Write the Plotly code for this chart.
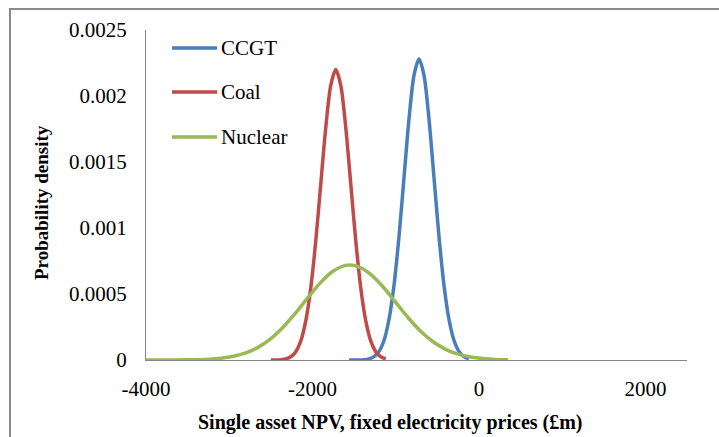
import plotly.graph_objects as go

# ---- data ----
ccgt_x = [-1560, -1500, -1440, -1380, -1320, -1260, -1200, -1140, -1080, -1020, -960, -900, -840,
          -780, -720, -660, -600, -540, -480, -420, -360, -300, -240, -180, -120]
ccgt_y = [0.00000004, 0.00000019, 0.00000076, 0.0000027, 0.0000088, 0.0000253, 0.0000652,
          0.0001498, 0.0003085, 0.0005677, 0.000937, 0.001383, 0.001826, 0.002157, 0.00228,
          0.002157, 0.001826, 0.001383, 0.000937, 0.0005677, 0.0003085, 0.0001498, 0.0000652,
          0.0000253, 0.0000088]

coal_x = [-2500, -2440, -2380, -2320, -2260, -2200, -2140, -2080, -2020, -1960, -1900, -1840,
          -1780, -1720, -1660, -1600, -1540, -1480, -1420, -1360, -1300, -1240, -1180, -1120]
coal_y = [0.0000002, 0.0000007, 0.0000026, 0.0000085, 0.0000244, 0.0000629, 0.0001445,
          0.0002977, 0.0005478, 0.000904, 0.001334, 0.001762, 0.002081, 0.0022, 0.002081,
          0.001762, 0.001334, 0.000904, 0.0005478, 0.0002977, 0.0001445, 0.0000629,
          0.0000244, 0.0000085]

nuclear_x = [-4000, -3850, -3700, -3550, -3400, -3250, -3100, -2950, -2800, -2650, -2500, -2350,
             -2200, -2050, -1900, -1750, -1600, -1450, -1300, -1150, -1000, -850, -700, -550,
             -400, -250, -100, 50, 200, 350]
nuclear_y = [0.00000004, 0.00000012, 0.00000035, 0.00000097, 0.0000025, 0.0000061, 0.0000136,
             0.0000282, 0.0000544, 0.0000974, 0.000162, 0.00025, 0.000358, 0.000476, 0.000588,
             0.000674, 0.000717, 0.000708, 0.000649, 0.000553, 0.000437, 0.00032, 0.000218,
             0.000138, 0.0000809, 0.0000441, 0.0000223, 0.0000105, 0.0000046, 0.0000018]

series_names = ["CCGT", "Coal", "Nuclear"]
series_colors = ["#4A7EBB", "#BE4B48", "#98B954"]

x_tickvals = [-4000, -2000, 0, 2000]
x_ticktext = ["-4000", "-2000", "0", "2000"]
y_tickvals = [0, 0.0005, 0.001, 0.0015, 0.002, 0.0025]
y_ticktext = ["0", "0.0005", "0.001", "0.0015", "0.002", "0.0025"]

x_title = "Single asset NPV, fixed electricity prices (£m)"
y_title = "Probability density"

# ---- figure ----
W, H = 719, 437
ML, MR, MT, MB = 146, 32, 30, 77
PW, PH = W - ML - MR, H - MT - MB

def px(x):
    return (x - ML) / PW

def py(y):
    return (H - MB - y) / PH

FONT = "Liberation Serif, Times New Roman, serif"

fig = go.Figure()
for name, xs, ys, col in zip(series_names, [ccgt_x, coal_x, nuclear_x],
                             [ccgt_y, coal_y, nuclear_y], series_colors):
    fig.add_trace(go.Scatter(x=xs, y=ys, mode="lines", name=name,
                             line=dict(color=col, width=3.5, shape="spline", smoothing=0.8),
                             showlegend=False))

shapes = []
annotations = []
# chart-area border (extends past the screenshot on right and bottom)
shapes.append(dict(type="rect", xref="paper", yref="paper",
                   x0=px(10), x1=px(740), y0=py(460), y1=py(9),
                   line=dict(color="#8a8a8a", width=2), fillcolor="rgba(0,0,0,0)", layer="below"))

# manual legend
leg_y = [48, 92, 137]
for name, col, yy in zip(series_names, series_colors, leg_y):
    shapes.append(dict(type="line", xref="paper", yref="paper",
                       x0=px(172), x1=px(217), y0=py(yy), y1=py(yy),
                       line=dict(color=col, width=3.5)))
    annotations.append(dict(text=name, xref="paper", yref="paper", x=px(219), y=py(yy),
                            xanchor="left", yanchor="middle", showarrow=False,
                            font=dict(family=FONT, size=21, color="#000000")))

annotations.append(dict(text="<b>" + x_title + "</b>", xref="paper", yref="paper",
                        x=px(390), y=py(422), xanchor="center", yanchor="middle",
                        showarrow=False, font=dict(family=FONT, size=20, color="#000000")))
annotations.append(dict(text="<b>" + y_title + "</b>", xref="paper", yref="paper",
                        x=px(42), y=py(203), xanchor="center", yanchor="middle", textangle=-90,
                        showarrow=False, font=dict(family=FONT, size=19, color="#000000")))

fig.update_layout(
    width=W, height=H,
    margin=dict(l=ML, r=MR, t=MT, b=MB, pad=0),
    paper_bgcolor="white", plot_bgcolor="white",
    font=dict(family=FONT, size=21, color="#000000"),
    shapes=shapes, annotations=annotations,
    showlegend=False,
)
fig.update_xaxes(range=[-4000, 2500], tickvals=x_tickvals, ticktext=x_ticktext,
                 showgrid=False, zeroline=False, showline=True, linecolor="#868686", linewidth=1,
                 ticks="outside", ticklen=10, tickcolor="rgba(0,0,0,0)",
                 tickfont=dict(family=FONT, size=21, color="#000000"))
fig.update_yaxes(range=[0, 0.0025], tickvals=y_tickvals, ticktext=y_ticktext,
                 showgrid=False, zeroline=False, showline=True, linecolor="#868686", linewidth=1,
                 ticks="outside", ticklen=14, tickcolor="rgba(0,0,0,0)",
                 tickfont=dict(family=FONT, size=21, color="#000000"))

fig.write_html("out.html", config={"displayModeBar": False},
               post_script="document.body.style.margin='0';document.body.style.overflow='hidden';")
